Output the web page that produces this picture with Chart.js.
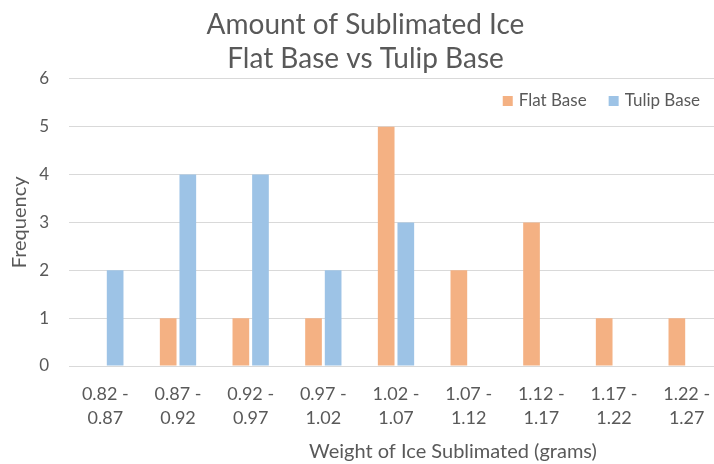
<!DOCTYPE html>
<html>
<head>
<meta charset="utf-8">
<script src="https://cdn.jsdelivr.net/npm/chart.js@4"></script>
<style>
  html, body { margin: 0; padding: 0; background: #fff; overflow: hidden; }
  #wrap { width: 736px; height: 464px; }
</style>
</head>
<body>
<div id="wrap"><canvas id="iceChart" width="736" height="464"></canvas></div>
<script>
const categories = [
  ['0.82 -', '0.87'], ['0.87 -', '0.92'], ['0.92 -', '0.97'],
  ['0.97 -', '1.02'], ['1.02 -', '1.07'], ['1.07 -', '1.12'],
  ['1.12 -', '1.17'], ['1.17 -', '1.22'], ['1.22 -', '1.27']
];
const flatBase = [0, 1, 1, 1, 5, 2, 3, 1, 1];
const tulipBase = [2, 4, 4, 2, 3, 0, 0, 0, 0];
const yTicks = [0, 1, 2, 3, 4, 5, 6];

const TEXT = '#595959';
const FONT = 'Lato, "Open Sans", sans-serif';
const xTitle = 'Weight of Ice Sublimated (grams)';

// x axis title sits off-centre, so it is drawn by hand
const xTitlePlugin = {
  id: 'xTitle',
  afterDraw(chart) {
    const c = chart.ctx;
    c.save();
    c.font = '20px ' + FONT;
    c.fillStyle = TEXT;
    c.textAlign = 'center';
    c.textBaseline = 'middle';
    c.fillText(xTitle, 453, 452);
    c.restore();
  }
};

// legend inside the plot, top right, laid out right to left
const insideLegend = {
  id: 'insideLegend',
  afterDraw(chart) {
    const c = chart.ctx;
    const sets = chart.data.datasets;
    c.save();
    c.font = '17px ' + FONT;
    c.textBaseline = 'middle';
    let x = 700;
    const y = 101;
    for (let i = sets.length - 1; i >= 0; i--) {
      const w = c.measureText(sets[i].label).width;
      x -= w;
      c.fillStyle = TEXT;
      c.fillText(sets[i].label, x, y);
      x -= 6 + 10;
      c.fillStyle = sets[i].backgroundColor;
      c.fillRect(x, y - 5, 10, 10);
      x -= 22;
    }
    c.restore();
  }
};

new Chart(document.getElementById('iceChart'), {
  type: 'bar',
  data: {
    labels: categories,
    datasets: [
      { label: 'Flat Base', data: flatBase, backgroundColor: '#F4B183' },
      { label: 'Tulip Base', data: tulipBase, backgroundColor: '#9DC3E6' }
    ]
  },
  plugins: [xTitlePlugin, insideLegend],
  options: {
    responsive: false,
    animation: false,
    layout: { padding: { left: 8, right: 13 } },
    categoryPercentage: 0.54,
    barPercentage: 0.85,
    plugins: {
      title: {
        display: true,
        text: ['Amount of Sublimated Ice', 'Flat Base vs Tulip Base'],
        color: TEXT,
        font: { family: FONT, size: 28, weight: 'normal', lineHeight: 1.21 },
        padding: { top: 8, bottom: 3 }
      },
      legend: { display: false },
      tooltip: { enabled: false }
    },
    scales: {
      x: {
        grid: { display: false },
        border: { display: false },
        ticks: {
          color: TEXT,
          font: { family: FONT, size: 18, lineHeight: 1.33 },
          maxRotation: 0,
          autoSkip: false,
          padding: 8
        },
        afterFit(s) { s.height = 98; }
      },
      y: {
        min: 0,
        max: 6,
        afterBuildTicks(s) { s.ticks = yTicks.map(v => ({ value: v })); },
        grid: { color: '#d9d9d9', lineWidth: 1, drawTicks: false },
        border: { display: false },
        ticks: {
          color: TEXT,
          font: { family: FONT, size: 17 },
          padding: 20
        },
        title: {
          display: true,
          text: 'Frequency',
          color: TEXT,
          font: { family: FONT, size: 20 },
          padding: 0
        },
        afterFit(s) { s.width = 61; }
      }
    }
  }
});
</script>
</body>
</html>
